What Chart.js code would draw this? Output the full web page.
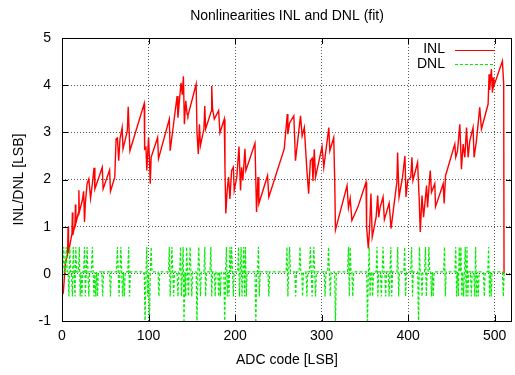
<!DOCTYPE html>
<html>
<head>
<meta charset="utf-8">
<title>Nonlinearities INL and DNL (fit)</title>
<script src="https://cdn.jsdelivr.net/npm/chart.js@4.4.1/dist/chart.umd.min.js"></script>
<style>
  html, body { margin: 0; padding: 0; background: #fff; }
  canvas { display: block; }
</style>
</head>
<body>
<canvas id="chart" width="515" height="375"></canvas>
<script>
// INL curve as (code, value) vertices
const inlCodes = [
    0, 1.5, 4, 6.5, 7, 7.5, 9.5, 11.5, 12, 12.5, 15, 15.5, 16, 19, 19.5, 20,
    23.5, 25, 26, 27, 29, 31, 33, 35, 37, 38, 46.5, 47.5, 55, 56, 61, 62.5,
    64, 65.5, 67, 69.5, 70.5, 75.5, 76.5, 78.5, 95, 95.5, 97, 98, 100, 101,
    102, 103, 110.5, 111.5, 124, 125, 133, 134, 137.5, 139, 140.3, 141.4, 143, 144.5,
    145.5, 155, 156, 157.5, 158.8, 160, 164, 165, 166, 172.5, 173, 174, 176, 181,
    182.5, 187.5, 188.3, 189.3, 191, 192.5, 194, 196, 198, 199, 202, 204.5, 206.3, 207.5,
    209, 211.4, 212.5, 223, 224.8, 226.5, 227.5, 237.5, 239, 256.8, 260.3, 261, 263, 267.9,
    269.8, 275.6, 277.5, 280, 283, 285, 287, 289, 290, 291.5, 293, 300.5, 302.5, 308.3,
    309.5, 314, 315.2, 316, 329.4, 331, 333, 335, 342, 351.3, 352, 354, 355.5, 357,
    358.5, 363, 364.8, 366, 367.5, 371, 372.5, 378, 380.2, 387, 387.8, 389.5, 393.5, 396.3,
    397.5, 399.5, 403, 404.4, 405.5, 410.9, 412.8, 414, 416, 417.8, 421.3, 422.4, 425.5, 427,
    430.8, 431.6, 440.5, 441.6, 443.2, 453.9, 455, 457, 459.7, 461.6, 463.5, 465.5, 467.4, 469.3,
    471.2, 475, 476.2, 478.9, 482.7, 484.7, 492.4, 493.5, 494.2, 496.2, 497.4, 498.2, 499, 508.9,
    510.4, 510.8
];
const inlValues = [
    -0.45, -0.4, 0.25, 0.4, 1.0, 0.45, 0.65, 0.85, 1.3, 0.82, 1.05, 1.47, 1.07, 1.3, 1.77, 1.31,
    1.56, 1.75, 1.1, 1.5, 1.91, 2.01, 1.6, 1.9, 2.25, 1.8, 2.26, 1.8, 2.2, 1.75, 2.05, 2.86,
    2.88, 2.4, 2.86, 3.1, 2.65, 3.03, 3.54, 2.61, 3.61, 2.65, 2.68, 2.19, 2.89, 2.45,
    1.91, 2.47, 2.89, 2.44, 3.28, 2.61, 3.77, 3.31, 4.05, 3.8, 4.19, 3.17, 3.67, 3.4,
    3.35, 4.02, 2.99, 2.54, 3.17, 2.72, 3.07, 3.56, 3.07, 3.45, 3.98, 3.49, 3.28, 3.46,
    2.99, 3.28, 2.26, 1.28, 1.8, 2.05, 1.59, 2.19, 2.26, 1.77, 2.05, 2.7, 1.77, 2.26,
    1.98, 2.65, 2.19, 2.77, 1.31, 2.05, 1.49, 2.08, 1.63, 2.65, 3.39, 2.96, 3.2, 3.35,
    2.4, 3.35, 2.92, 3.1, 2.19, 1.7, 2.4, 2.45, 1.97, 2.64, 2.05, 2.7, 2.26, 3.1,
    2.61, 2.89, 1.91, 0.93, 1.87, 1.4, 1.6, 1.13, 1.42, 1.94, 0.99, 0.54, 0.99, 1.7,
    0.78, 1.2, 1.66, 1.2, 1.4, 1.63, 1.15, 1.5, 0.96, 1.95, 2.57, 1.63, 2.05, 2.5,
    1.63, 1.98, 2.05, 2.47, 1.98, 2.36, 1.56, 0.89, 1.66, 1.2, 1.87, 1.41, 2.19, 1.73,
    1.91, 1.42, 1.91, 1.49, 2.08, 2.75, 2.47, 2.6, 3.17, 2.22, 2.75, 2.47, 3.1, 2.47,
    2.82, 3.1, 2.47, 2.82, 3.53, 3.07, 3.6, 4.23, 3.9, 4.34, 3.84, 4.16, 3.98, 4.51,
    4.02, 0.01
];

// DNL: flat level with single-code spikes
const dnlBase = 0.04;
const dnlLastCode = 511;
const dnlCodes = [
    0, 2, 5, 8, 9, 12, 13, 15, 16, 20, 21, 23, 26, 27, 29, 31, 35, 37, 39, 41,
    47, 56, 64, 66, 68, 70, 72, 77, 78, 96, 98, 99, 101, 103, 112, 124, 125, 127, 129, 134,
    137, 138, 140, 141, 143, 144, 146, 148, 150, 156, 158, 160, 165, 166, 172, 173, 177, 181, 183, 188,
    190, 191, 193, 194, 196, 198, 204, 205, 207, 208, 210, 211, 212, 213, 224, 227, 228, 239, 260, 261,
    263, 270, 275, 278, 283, 287, 289, 291, 293, 304, 308, 310, 316, 331, 332, 333, 336, 353, 355, 356,
    359, 364, 365, 369, 371, 374, 378, 380, 381, 388, 389, 396, 397, 404, 405, 412, 413, 416, 420, 421,
    424, 427, 429, 442, 443, 455, 456, 458, 459, 461, 462, 464, 466, 467, 468, 469, 473, 477, 478, 479,
    481, 488, 493, 494, 496, 510
];
const dnlValues = [
    -0.45, 0.57, 0.57, -0.48, 0.57, -0.48, 0.57, -0.48, 0.57, 0.57, -0.48, -0.48, 0.57, -0.48, 0.57, -0.48, 0.57, -0.48, -0.48, -0.48,
    -0.48, -0.48, 0.57, -0.48, 0.57, -0.48, -0.48, 0.57, -0.48, -1.1, 0.57, -0.48, -1.1, 0.57, -0.48, 0.57, -0.48, 0.57, -0.48, -0.48,
    0.57, -0.48, 0.57, -1.1, -0.48, 0.57, -0.48, 0.57, -0.48, -1.1, 0.57, -0.48, 0.57, -0.48, 0.57, -0.48, -0.48, -0.48, -0.48, -1.1,
    0.57, -0.48, -0.48, 0.57, 0.57, -0.48, 0.57, -0.48, 0.57, -0.48, 0.57, -0.48, 0.57, -0.48, -1.1, 0.57, -0.48, -0.48, 0.57, -0.48,
    0.57, -0.48, 0.57, -0.48, -0.48, 0.57, -0.48, 0.57, -0.48, -0.48, 0.57, -0.48, -1.1, 0.57, -0.48, 0.57, -0.48, -1.1, 0.57, -0.48,
    -0.48, 0.57, -0.48, -0.48, 0.57, -0.48, -0.48, 0.57, -0.48, 0.57, -0.48, 0.57, -0.48, 0.57, -0.48, -1.1, 0.57, -0.48, 0.57, -0.48,
    0.57, -0.48, -0.48, 0.57, -0.48, 0.57, -0.48, -0.48, 0.57, 0.57, -0.48, -0.48, 0.57, -0.48, 0.57, -0.48, -0.48, -0.48, 0.57, -0.48,
    -0.48, -0.48, 0.57, -0.48, -0.48, -0.48
];

const FONT = '"Liberation Sans", Arial, Helvetica, sans-serif';

const inlPoints = inlCodes.map((c, i) => ({ x: c, y: inlValues[i] }));

const dnlPoints = [];
dnlCodes.forEach((c, i) => {
    const last = dnlPoints[dnlPoints.length - 1];
    if (!last || last.x < c - 1) dnlPoints.push({ x: Math.max(c - 1, 0), y: dnlBase });
    dnlPoints.push({ x: c, y: dnlValues[i] });
    const next = dnlCodes[i + 1];
    if (next === undefined || next > c + 1) dnlPoints.push({ x: c + 1, y: dnlBase });
});
if (dnlPoints[dnlPoints.length - 1].x < dnlLastCode) dnlPoints.push({ x: dnlLastCode, y: dnlBase });

// title, frame, inward ticks and key drawn gnuplot-style
const gnuplotLook = {
    id: 'gnuplotLook',
    afterDraw(chart) {
        const { ctx, chartArea: a, scales } = chart;
        ctx.save();

        ctx.fillStyle = '#000';
        ctx.font = '14px ' + FONT;
        ctx.textAlign = 'center';
        ctx.textBaseline = 'middle';
        ctx.fillText('Nonlinearities INL and DNL (fit)', (a.left + a.right) / 2, 16);

        ctx.strokeStyle = '#000';
        ctx.lineWidth = 1;
        ctx.setLineDash([]);
        ctx.strokeRect(a.left + 0.5, a.top + 0.5, a.right - a.left - 1, a.bottom - a.top);

        const tick = 6;
        ctx.beginPath();
        scales.x.ticks.forEach(t => {
            const px = Math.round(scales.x.getPixelForValue(t.value)) + 0.5;
            ctx.moveTo(px, a.bottom); ctx.lineTo(px, a.bottom - tick);
            ctx.moveTo(px, a.top); ctx.lineTo(px, a.top + tick);
        });
        scales.y.ticks.forEach(t => {
            const py = Math.round(scales.y.getPixelForValue(t.value)) + 0.5;
            ctx.moveTo(a.left, py); ctx.lineTo(a.left + tick, py);
            ctx.moveTo(a.right, py); ctx.lineTo(a.right - tick, py);
        });
        ctx.stroke();

        // key
        ctx.textAlign = 'right';
        chart.data.datasets.forEach((ds, i) => {
            const y = 49.5 + i * 14.5;
            ctx.fillStyle = '#000';
            ctx.fillText(ds.label, 445, y);
            ctx.strokeStyle = ds.borderColor;
            ctx.lineWidth = 1;
            ctx.setLineDash(ds.borderDash || []);
            ctx.beginPath();
            ctx.moveTo(455, Math.round(y) + 0.5);
            ctx.lineTo(495, Math.round(y) + 0.5);
            ctx.stroke();
        });
        ctx.restore();
    }
};

const gridLines = { color: 'rgba(0,0,0,0.65)', lineWidth: 1, drawTicks: false };
const gridBorder = { display: false, dash: [1, 2] };

new Chart(document.getElementById('chart'), {
    type: 'line',
    data: {
        datasets: [
            {
                label: 'INL',
                data: inlPoints,
                borderColor: '#ff0000',
                borderWidth: 1.4,
                pointRadius: 0,
                tension: 0,
                order: 1
            },
            {
                label: 'DNL',
                data: dnlPoints,
                borderColor: '#00ee00',
                borderWidth: 1.2,
                borderDash: [3, 2],
                pointRadius: 0,
                tension: 0,
                order: 0
            }
        ]
    },
    options: {
        responsive: false,
        animation: false,
        devicePixelRatio: 1,
        events: [],
        layout: { padding: { top: 38, right: 3, left: 0, bottom: 0 } },
        plugins: {
            legend: { display: false },
            title: { display: false },
            tooltip: { enabled: false }
        },
        scales: {
            x: {
                type: 'linear',
                min: 0,
                max: 520,
                ticks: {
                    stepSize: 100,
                    includeBounds: false,
                    maxRotation: 0,
                    color: '#000',
                    padding: 7,
                    font: { family: FONT, size: 14 }
                },
                grid: gridLines,
                border: gridBorder,
                title: {
                    display: true,
                    text: 'ADC code [LSB]',
                    color: '#000',
                    font: { family: FONT, size: 14 },
                    padding: { top: 0, bottom: 6 }
                },
                afterFit: s => { s.height = 54; }
            },
            y: {
                min: -1,
                max: 5,
                ticks: {
                    stepSize: 1,
                    color: '#000',
                    padding: 11,
                    font: { family: FONT, size: 14 }
                },
                grid: gridLines,
                border: gridBorder,
                title: {
                    display: true,
                    text: 'INL/DNL [LSB]',
                    color: '#000',
                    font: { family: FONT, size: 14 },
                    padding: { top: 11, bottom: 0 }
                },
                afterFit: s => { s.width = 62; }
            }
        }
    },
    plugins: [gnuplotLook]
});
</script>
</body>
</html>
